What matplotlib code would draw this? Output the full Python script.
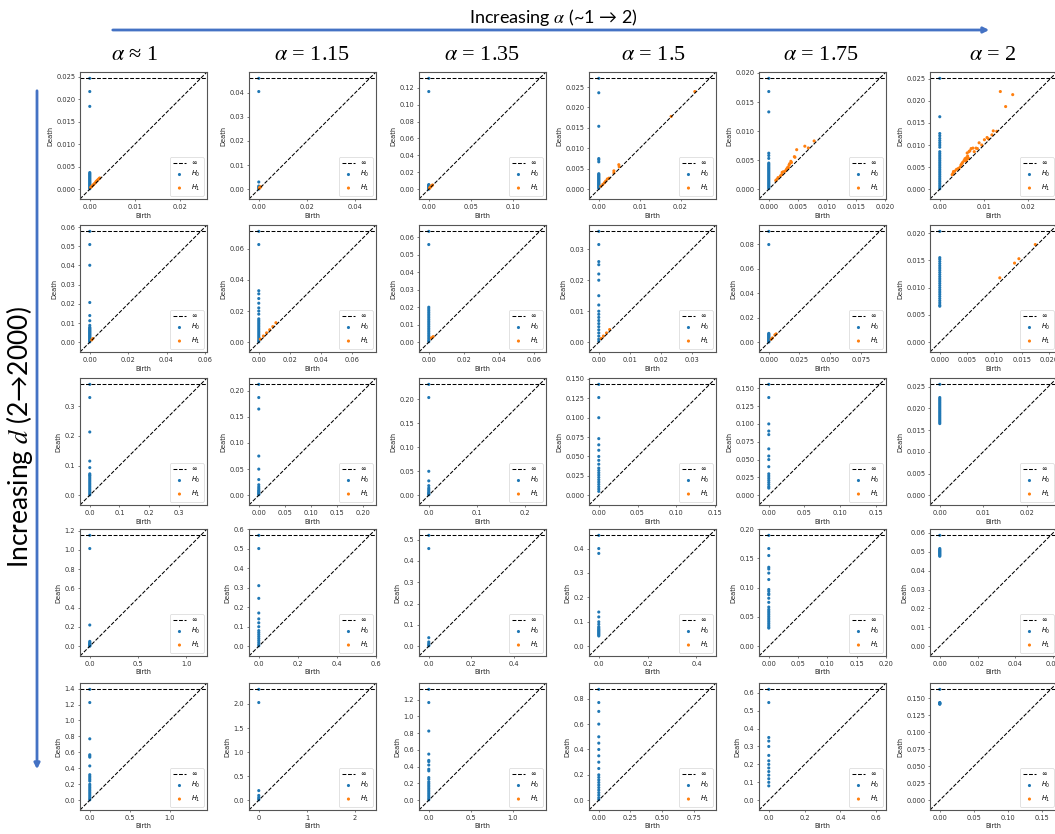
import numpy as np
import matplotlib
matplotlib.use("Agg")
import matplotlib.pyplot as plt
from matplotlib.patches import FancyArrowPatch
from matplotlib.ticker import MaxNLocator

# ---------------------------------------------------------------------------
# Persistence diagrams: rows = increasing dimension d, columns = increasing alpha
# H0 entries are death times (all born at 0); one extra H0 class never dies.
# H1 entries are (birth, death) pairs.
# ---------------------------------------------------------------------------
alpha_values = ["≈ 1", "= 1.15", "= 1.35", "= 1.5", "= 1.75", "= 2"]

# row 0
h0_r0c0 = [0.0217, 0.0184, 0.0037, 0.0035, 0.0033, 0.0031, 0.0029, 0.0027, 0.0025,
           0.0023, 0.0021, 0.0019, 0.0017, 0.0015, 0.0013, 0.0011, 0.0009, 0.0007,
           0.0005, 0.0003, 0.0001]
h1_r0c0 = [(0.0002, 0.0004), (0.0004, 0.0006), (0.0006, 0.0008), (0.0008, 0.0010),
           (0.0010, 0.0012), (0.0012, 0.0014), (0.0014, 0.0017), (0.0016, 0.0019),
           (0.0018, 0.0021), (0.0020, 0.0023), (0.0022, 0.0025)]
h0_r0c1 = [0.0405, 0.0030, 0.0013, 0.0009, 0.0006, 0.0003, 0.0001]
h1_r0c1 = [(0.0002, 0.0004), (0.0004, 0.0007), (0.0006, 0.0009), (0.0008, 0.0010)]
h0_r0c2 = [0.1155, 0.0055, 0.0048, 0.0042, 0.0036, 0.0030, 0.0024, 0.0018, 0.0012,
           0.0006, 0.0002]
h1_r0c2 = [(0.0008, 0.0012), (0.0015, 0.0020), (0.0020, 0.0028), (0.0030, 0.0036),
           (0.0038, 0.0045), (0.0045, 0.0050)]
h0_r0c3 = [0.0236, 0.0154, 0.0075, 0.0072, 0.0067, 0.0038, 0.0036, 0.0034, 0.0032,
           0.0030, 0.0028, 0.0026, 0.0024, 0.0022, 0.0020, 0.0018, 0.0016, 0.0014,
           0.0012, 0.0010, 0.0008, 0.0006, 0.0004, 0.0002]
h1_r0c3 = [(0.0235, 0.0239), (0.0177, 0.0178), (0.0049, 0.0060), (0.0050, 0.0055),
           (0.0037, 0.0045), (0.0037, 0.0040), (0.0025, 0.0027), (0.0021, 0.0025),
           (0.0017, 0.0020), (0.0014, 0.0016), (0.0010, 0.0012), (0.0005, 0.0007)]
h0_r0c4 = [0.0168, 0.0133, 0.0062, 0.0058, 0.0053, 0.0045, 0.0043, 0.0041, 0.0039,
           0.0037, 0.0035, 0.0033, 0.0031, 0.0029, 0.0027, 0.0025, 0.0023, 0.0021,
           0.0019, 0.0017, 0.0015, 0.0013, 0.0011, 0.0009, 0.0007, 0.0005, 0.0003,
           0.0001]
h1_r0c4 = [(0.0078, 0.0083), (0.0068, 0.0071), (0.0062, 0.0074), (0.0048, 0.0068),
           (0.0044, 0.0056), (0.0045, 0.0055), (0.0039, 0.0046), (0.0038, 0.0048),
           (0.0036, 0.0044), (0.0035, 0.0042), (0.0034, 0.0037), (0.0033, 0.0038),
           (0.0032, 0.0036), (0.0031, 0.0035), (0.0030, 0.0033), (0.0028, 0.0031),
           (0.0025, 0.0030), (0.0023, 0.0029), (0.0022, 0.0025), (0.0020, 0.0023),
           (0.0016, 0.0020), (0.0014, 0.0017), (0.0012, 0.0015)]
h0_r0c5 = [0.0164, 0.0126, 0.0121, 0.0115, 0.0110, 0.0105, 0.0100, 0.0095, 0.0085,
           0.0081, 0.0077, 0.0073, 0.0069, 0.0065, 0.0061, 0.0057, 0.0053, 0.0049,
           0.0045, 0.0041, 0.0037, 0.0033, 0.0029, 0.0025, 0.0021, 0.0017, 0.0013,
           0.0009, 0.0005, 0.0001]
h1_r0c5 = [(0.0137, 0.0221), (0.0165, 0.0214), (0.0149, 0.0187), (0.0121, 0.0132),
           (0.0129, 0.0131), (0.0118, 0.0123), (0.0107, 0.0117), (0.0101, 0.0112),
           (0.0089, 0.0105), (0.0082, 0.0093), (0.0075, 0.0093), (0.0071, 0.0092),
           (0.0066, 0.0085), (0.0062, 0.0082), (0.0068, 0.0087), (0.0063, 0.0075),
           (0.0060, 0.0071), (0.0057, 0.0069), (0.0055, 0.0065), (0.0052, 0.0061),
           (0.0050, 0.0058), (0.0048, 0.0055), (0.0046, 0.0050), (0.0042, 0.0047),
           (0.0038, 0.0045), (0.0034, 0.0041), (0.0031, 0.0040), (0.0030, 0.0036),
           (0.0028, 0.0033), (0.0059, 0.0064), (0.0062, 0.0068), (0.0065, 0.0070),
           (0.0078, 0.0085), (0.0085, 0.0092), (0.0095, 0.0100), (0.0110, 0.0114)]

# row 1
h0_r1c0 = [0.0509, 0.0401, 0.0207, 0.0139, 0.0112, 0.0088, 0.0078, 0.0074, 0.0070,
           0.0066, 0.0062, 0.0058, 0.0054, 0.0050, 0.0046, 0.0042, 0.0038, 0.0034,
           0.0030, 0.0026, 0.0022, 0.0018, 0.0014, 0.0010, 0.0006, 0.0002]
h1_r1c0 = [(0.0010, 0.0012), (0.0016, 0.0019)]
h0_r1c1 = [0.0626, 0.0330, 0.0310, 0.0280, 0.0250, 0.0220, 0.0200, 0.0180, 0.0150,
           0.0140, 0.0130, 0.0120, 0.0110, 0.0100, 0.0090, 0.0080, 0.0070, 0.0060,
           0.0050, 0.0040, 0.0030, 0.0020, 0.0010, 0.0003]
h1_r1c1 = [(0.0010, 0.0020), (0.0030, 0.0040), (0.0050, 0.0060), (0.0070, 0.0080),
           (0.0090, 0.0100), (0.0110, 0.0125)]
h0_r1c2 = [0.0558, 0.0200, 0.0190, 0.0180, 0.0170, 0.0160, 0.0150, 0.0140, 0.0130,
           0.0120, 0.0110, 0.0100, 0.0090, 0.0080, 0.0070, 0.0060, 0.0050, 0.0040,
           0.0030, 0.0020, 0.0010, 0.0003]
h1_r1c2 = [(0.0015, 0.0025), (0.0025, 0.0032)]
h0_r1c3 = [0.0315, 0.0260, 0.0250, 0.0220, 0.0200, 0.0150, 0.0120, 0.0100, 0.0090,
           0.0080, 0.0070, 0.0060, 0.0050, 0.0040, 0.0030, 0.0020, 0.0010, 0.0003]
h1_r1c3 = [(0.0008, 0.0012), (0.0015, 0.0020), (0.0025, 0.0030), (0.0035, 0.0041)]
h0_r1c4 = [0.0797, 0.0072, 0.0066, 0.0060, 0.0054, 0.0048, 0.0042, 0.0036, 0.0030,
           0.0024, 0.0018, 0.0012, 0.0006, 0.0002]
h1_r1c4 = [(0.0020, 0.0025), (0.0030, 0.0035), (0.0050, 0.0060), (0.0060, 0.0068)]
h0_r1c5 = [0.0155, 0.0152, 0.0148, 0.0144, 0.0140, 0.0136, 0.0132, 0.0128, 0.0124,
           0.0120, 0.0116, 0.0112, 0.0108, 0.0104, 0.0100, 0.0096, 0.0092, 0.0088,
           0.0084, 0.0080, 0.0076, 0.0072, 0.0068, 0.0066]
h1_r1c5 = [(0.0175, 0.0179), (0.0145, 0.0153), (0.0137, 0.0145), (0.0110, 0.0118)]

# row 2
h0_r2c0 = [0.329, 0.213, 0.115, 0.093, 0.072, 0.068, 0.065, 0.060, 0.055, 0.050,
           0.045, 0.040, 0.035, 0.030, 0.025, 0.020, 0.015, 0.010, 0.005, 0.001]
h1_r2c0 = []
h0_r2c1 = [0.187, 0.165, 0.075, 0.050, 0.030, 0.020, 0.016, 0.013, 0.010, 0.008,
           0.006, 0.004, 0.002, 0.001]
h1_r2c1 = []
h0_r2c2 = [0.204, 0.050, 0.030, 0.020, 0.015, 0.012, 0.009, 0.006, 0.004, 0.002,
           0.001]
h1_r2c2 = []
h0_r2c3 = [0.126, 0.100, 0.073, 0.065, 0.058, 0.050, 0.045, 0.040, 0.035, 0.032,
           0.029, 0.026, 0.023, 0.020, 0.017, 0.014, 0.011, 0.008, 0.005]
h1_r2c3 = []
h0_r2c4 = [0.137, 0.100, 0.090, 0.085, 0.065, 0.055, 0.050, 0.040, 0.030, 0.027,
           0.024, 0.021, 0.018, 0.015, 0.012, 0.010]
h1_r2c4 = []
h0_r2c5 = [0.0225, 0.0222, 0.0219, 0.0216, 0.0213, 0.0210, 0.0207, 0.0204, 0.0201,
           0.0198, 0.0195, 0.0192, 0.0189, 0.0186, 0.0183, 0.0180, 0.0177, 0.0174,
           0.0171, 0.0168, 0.0165]
h1_r2c5 = []

# row 3
h0_r3c0 = [1.013, 0.220, 0.050, 0.040, 0.030, 0.022, 0.015, 0.010, 0.005, 0.001]
h1_r3c0 = []
h0_r3c1 = [0.500, 0.310, 0.245, 0.170, 0.140, 0.120, 0.100, 0.080, 0.070, 0.060,
           0.050, 0.040, 0.030, 0.020, 0.010, 0.002]
h1_r3c1 = []
h0_r3c2 = [0.458, 0.040, 0.020, 0.012, 0.006, 0.002]
h1_r3c2 = []
h0_r3c3 = [0.400, 0.380, 0.140, 0.120, 0.100, 0.090, 0.080, 0.075, 0.070, 0.066,
           0.062, 0.058, 0.054, 0.050, 0.046, 0.042]
h1_r3c3 = []
h0_r3c4 = [0.167, 0.155, 0.135, 0.132, 0.125, 0.114, 0.097, 0.094, 0.090, 0.088,
           0.082, 0.075, 0.067, 0.063, 0.060, 0.057, 0.054, 0.051, 0.048, 0.045,
           0.042, 0.039, 0.036, 0.033, 0.031]
h1_r3c4 = []
h0_r3c5 = [0.0517, 0.0512, 0.0508, 0.0504, 0.0500, 0.0496, 0.0492, 0.0488, 0.0484,
           0.0480, 0.0476]
h1_r3c5 = []

# row 4
h0_r4c0 = [1.225, 0.770, 0.570, 0.555, 0.540, 0.430, 0.320, 0.300, 0.280, 0.260,
           0.240, 0.200, 0.180, 0.160, 0.140, 0.120, 0.100, 0.080, 0.060, 0.040,
           0.020, 0.005]
h1_r4c0 = []
h0_r4c1 = [2.030, 0.200, 0.100, 0.060, 0.030, 0.010]
h1_r4c1 = []
h0_r4c2 = [1.165, 0.825, 0.550, 0.475, 0.460, 0.420, 0.370, 0.350, 0.270, 0.250,
           0.220, 0.200, 0.180, 0.160, 0.140, 0.120, 0.100, 0.080, 0.060, 0.040,
           0.020, 0.005]
h1_r4c2 = []
h0_r4c3 = [0.770, 0.700, 0.600, 0.500, 0.450, 0.400, 0.350, 0.300, 0.250, 0.200,
           0.180, 0.160, 0.140, 0.120, 0.100, 0.080, 0.060, 0.040, 0.020, 0.005]
h1_r4c3 = []
h0_r4c4 = [0.545, 0.350, 0.330, 0.300, 0.250, 0.220, 0.200, 0.180, 0.160, 0.140,
           0.120, 0.100, 0.080]
h1_r4c4 = []
h0_r4c5 = [0.1435, 0.1430, 0.1425, 0.1420, 0.1415, 0.1410]
h1_r4c5 = []

grid_h0 = [
    [h0_r0c0, h0_r0c1, h0_r0c2, h0_r0c3, h0_r0c4, h0_r0c5],
    [h0_r1c0, h0_r1c1, h0_r1c2, h0_r1c3, h0_r1c4, h0_r1c5],
    [h0_r2c0, h0_r2c1, h0_r2c2, h0_r2c3, h0_r2c4, h0_r2c5],
    [h0_r3c0, h0_r3c1, h0_r3c2, h0_r3c3, h0_r3c4, h0_r3c5],
    [h0_r4c0, h0_r4c1, h0_r4c2, h0_r4c3, h0_r4c4, h0_r4c5],
]
grid_h1 = [
    [h1_r0c0, h1_r0c1, h1_r0c2, h1_r0c3, h1_r0c4, h1_r0c5],
    [h1_r1c0, h1_r1c1, h1_r1c2, h1_r1c3, h1_r1c4, h1_r1c5],
    [h1_r2c0, h1_r2c1, h1_r2c2, h1_r2c3, h1_r2c4, h1_r2c5],
    [h1_r3c0, h1_r3c1, h1_r3c2, h1_r3c3, h1_r3c4, h1_r3c5],
    [h1_r4c0, h1_r4c1, h1_r4c2, h1_r4c3, h1_r4c4, h1_r4c5],
]

# ---------------------------------------------------------------------------
W, H = 1055, 834
FS = 4.8          # small text inside each diagram
plt.rcParams.update({
    "font.family": ["DejaVu Sans"],
    "font.size": FS,
    "axes.linewidth": 0.8,
    "axes.edgecolor": "#555555",
    "xtick.major.size": 1.7,
    "ytick.major.size": 1.7,
    "xtick.major.width": 0.45,
    "ytick.major.width": 0.45,
    "xtick.major.pad": 1.7,
    "ytick.major.pad": 1.7,
    "xtick.color": "#333333",
    "ytick.color": "#333333",
    "axes.labelpad": 2.0,
    "axes.labelcolor": "#222222",
})

fig = plt.figure(figsize=(W / 100, H / 100), dpi=100)
fig.patch.set_facecolor("white")

col_left = [80, 249, 419, 589, 759, 930]
row_top = [72, 225, 378, 529, 683]
box = 127
nice_steps = [1, 2, 2.5, 5, 10]


def plot_diagram(ax, h0, h1):
    births0 = np.zeros(len(h0))
    deaths0 = np.asarray(h0, dtype=float)
    h1 = np.asarray(h1, dtype=float).reshape(-1, 2)
    finite = np.concatenate([births0, deaths0, h1.ravel()])
    lo, hi = finite.min(), finite.max()
    buf = (hi - lo) / 5
    down, up = lo - buf / 2, hi + buf
    b_inf = down + (up - down) * 0.95

    ax.plot([down, up], [down, up], "--", c="k", lw=0.75)
    ax.plot([down, up], [b_inf, b_inf], "--", c="k", lw=0.75, label=r"$\infty$")

    xs0 = np.append(births0, 0.0)
    ys0 = np.append(deaths0, b_inf)
    ax.scatter(xs0, ys0, s=5, color="#1f77b4", edgecolor="none", label=r"$H_0$")
    ax.scatter(h1[:, 0], h1[:, 1], s=5, color="#ff7f0e", edgecolor="none",
               label=r"$H_1$")
    ax.set_xlim(down, up)
    ax.set_ylim(down, up)
    ax.xaxis.set_major_locator(MaxNLocator(nbins=5, steps=nice_steps))
    ax.yaxis.set_major_locator(MaxNLocator(nbins=8, steps=nice_steps))
    ax.set_xlabel("Birth")
    ax.set_ylabel("Death")
    leg = ax.legend(loc="lower right", fontsize=FS, borderpad=0.4,
                    handlelength=2.0, labelspacing=0.5, borderaxespad=0.5,
                    framealpha=0.8)
    leg.get_frame().set_linewidth(0.5)


for r in range(5):
    for c in range(6):
        ax = fig.add_axes([col_left[c] / W, 1 - (row_top[r] + box) / H,
                           box / W, box / H])
        plot_diagram(ax, grid_h0[r][c], grid_h1[r][c])

# ---------------------------------------------------------------------------
# Annotations: sweep directions
blue = "#4472C4"
fig.text(553 / W, 1 - 17 / H, r"Increasing $\alpha$ (~1 → 2)", ha="center",
         va="center", fontsize=13, family=["Lato", "DejaVu Sans"],
         math_fontfamily="stix")
fig.patches.append(FancyArrowPatch((110 / W, 1 - 30 / H), (992 / W, 1 - 30 / H),
                                   transform=fig.transFigure, arrowstyle="-|>",
                                   mutation_scale=8, lw=2, color=blue))

col_center = [135, 312, 482, 653, 821, 993]
for c, val in enumerate(alpha_values):
    fig.text(col_center[c] / W, 1 - 56 / H, r"$\alpha$ " + val, ha="center",
             va="center", fontsize=16,
             family=["Liberation Serif", "DejaVu Serif"], math_fontfamily="stix")

fig.text(20 / W, 1 - 437 / H, r"Increasing $d$ (2→2000)", ha="center",
         va="center", rotation=90, fontsize=19, family=["Lato", "DejaVu Sans"],
         math_fontfamily="stix")
fig.patches.append(FancyArrowPatch((37 / W, 1 - 88 / H), (37 / W, 1 - 772 / H),
                                   transform=fig.transFigure, arrowstyle="-|>",
                                   mutation_scale=8, lw=2, color=blue))

fig.savefig("out.png", dpi=100, facecolor="white")
